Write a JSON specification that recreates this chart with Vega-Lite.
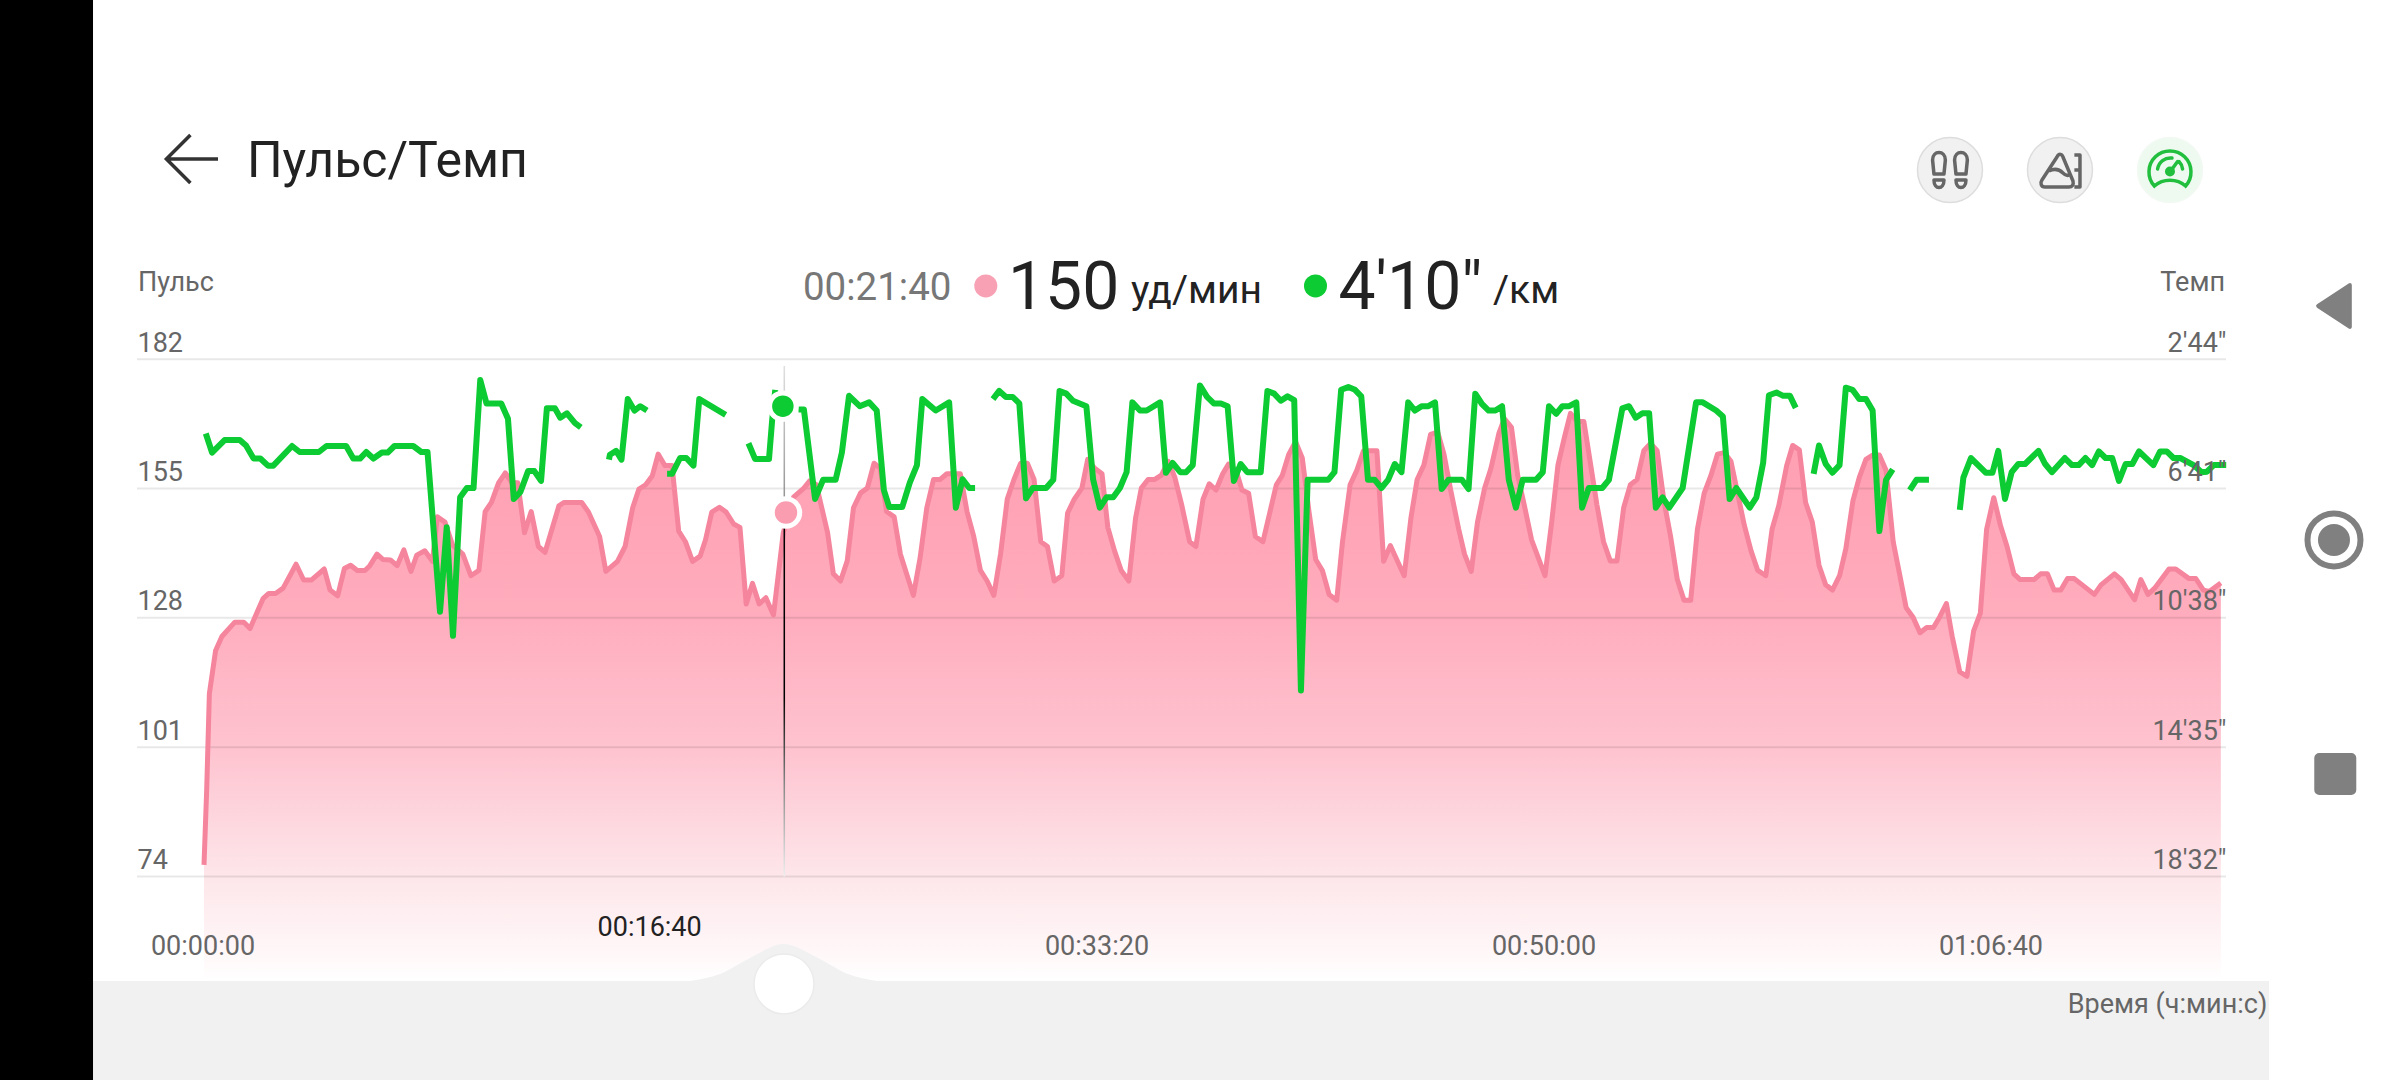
{
  "$schema": "https://vega.github.io/schema/vega-lite/v6.json",
  "width": 2400,
  "height": 1080,
  "autosize": {"type": "fit", "contains": "padding"},
  "padding": 0,
  "background": "#ffffff",
  "config": {"view": {"stroke": null}, "font": "Roboto"},
  "datasets": {
    "hr": [
      {"t":0,"bpm":76.4},{"t":6,"bpm":92.1},{"t":12,"bpm":112.2},{"t":26,"bpm":121.2},{"t":40,"bpm":124.1},{"t":69,"bpm":127.1},{"t":89,"bpm":127.1},{"t":103,"bpm":125.8},{"t":132,"bpm":132},{"t":145,"bpm":133.1},{"t":160,"bpm":133.1},{"t":177,"bpm":134.2},{"t":206,"bpm":139.2},{"t":223,"bpm":135.9},{"t":240,"bpm":135.9},{"t":269,"bpm":138.2},{"t":282,"bpm":133.8},{"t":299,"bpm":132.6},{"t":314,"bpm":138.3},{"t":328,"bpm":139},{"t":343,"bpm":137.9},{"t":360,"bpm":137.9},{"t":371,"bpm":138.9},{"t":387,"bpm":141.3},{"t":400,"bpm":140.2},{"t":417,"bpm":140.1},{"t":432,"bpm":138.9},{"t":447,"bpm":142.2},{"t":463,"bpm":137.7},{"t":476,"bpm":141.1},{"t":494,"bpm":142},{"t":511,"bpm":139.8},{"t":522,"bpm":149.1},{"t":539,"bpm":148},{"t":556,"bpm":143.2},{"t":579,"bpm":141.3},{"t":597,"bpm":136.8},{"t":615,"bpm":137.9},{"t":629,"bpm":150.2},{"t":643,"bpm":152.1},{"t":659,"bpm":156.2},{"t":674,"bpm":158.3},{"t":689,"bpm":156.2},{"t":702,"bpm":156.2},{"t":717,"bpm":145.8},{"t":732,"bpm":150.2},{"t":748,"bpm":142.9},{"t":763,"bpm":141.7},{"t":794,"bpm":151.4},{"t":805,"bpm":152.1},{"t":845,"bpm":152.1},{"t":860,"bpm":150.1},{"t":885,"bpm":145},{"t":899,"bpm":137.7},{"t":925,"bpm":139.8},{"t":942,"bpm":142.9},{"t":959,"bpm":151},{"t":973,"bpm":154.9},{"t":988,"bpm":155.8},{"t":1003,"bpm":157.7},{"t":1016,"bpm":162.2},{"t":1031,"bpm":159.8},{"t":1047,"bpm":159.8},{"t":1062,"bpm":146.1},{"t":1077,"bpm":143.9},{"t":1093,"bpm":139.8},{"t":1110,"bpm":140.9},{"t":1122,"bpm":144.3},{"t":1136,"bpm":150.1},{"t":1153,"bpm":151.1},{"t":1168,"bpm":150.1},{"t":1185,"bpm":147.6},{"t":1199,"bpm":146.9},{"t":1213,"bpm":130.9},{"t":1227,"bpm":135.2},{"t":1242,"bpm":130.9},{"t":1257,"bpm":132.2},{"t":1274,"bpm":128.6},{"t":1296,"bpm":145.8},{"t":1319,"bpm":153.2},{"t":1342,"bpm":155.1},{"t":1355,"bpm":156.6},{"t":1370,"bpm":155.8},{"t":1382,"bpm":151},{"t":1395,"bpm":145.8},{"t":1408,"bpm":137.2},{"t":1424,"bpm":135.7},{"t":1439,"bpm":139.9},{"t":1453,"bpm":151},{"t":1469,"bpm":154.1},{"t":1484,"bpm":155.1},{"t":1499,"bpm":160.3},{"t":1513,"bpm":159.2},{"t":1527,"bpm":150.2},{"t":1544,"bpm":149.1},{"t":1558,"bpm":141.3},
      {"t":1587,"bpm":132.7},{"t":1602,"bpm":140.5},{"t":1617,"bpm":151},{"t":1632,"bpm":156.9},{"t":1647,"bpm":156.9},{"t":1662,"bpm":158.1},{"t":1692,"bpm":158.1},{"t":1707,"bpm":150.2},{"t":1722,"bpm":145},{"t":1737,"bpm":137.9},{"t":1752,"bpm":135.7},{"t":1767,"bpm":132.7},{"t":1782,"bpm":141.3},{"t":1797,"bpm":152.8},{"t":1812,"bpm":156.9},{"t":1827,"bpm":160.3},{"t":1842,"bpm":160.3},{"t":1857,"bpm":156.9},{"t":1872,"bpm":143.9},{"t":1887,"bpm":142.9},{"t":1902,"bpm":135.7},{"t":1919,"bpm":136.8},{"t":1932,"bpm":149.9},{"t":1947,"bpm":152.8},{"t":1964,"bpm":155.1},{"t":1977,"bpm":161.1},{"t":1992,"bpm":159.3},{"t":2009,"bpm":158.1},{"t":2022,"bpm":146.9},{"t":2037,"bpm":142},{"t":2052,"bpm":137.9},{"t":2069,"bpm":135.7},{"t":2084,"bpm":148.8},{"t":2097,"bpm":155.1},{"t":2112,"bpm":156.9},{"t":2127,"bpm":156.9},{"t":2142,"bpm":157.8},{"t":2157,"bpm":160.7},{"t":2172,"bpm":157.3},{"t":2187,"bpm":151.7},{"t":2205,"bpm":143.9},{"t":2219,"bpm":142.9},{"t":2235,"bpm":152.8},{"t":2249,"bpm":156},{"t":2264,"bpm":154.7},{"t":2279,"bpm":158.1},{"t":2292,"bpm":160.1},{"t":2309,"bpm":158.8},{"t":2322,"bpm":154.7},{"t":2337,"bpm":154},{"t":2352,"bpm":145},{"t":2369,"bpm":143.9},{"t":2399,"bpm":155.8},{"t":2412,"bpm":157.7},{"t":2427,"bpm":162.2},{"t":2442,"bpm":164.8},{"t":2457,"bpm":161.4},{"t":2472,"bpm":150.2},{"t":2487,"bpm":140.2},{"t":2502,"bpm":137.9},{"t":2517,"bpm":132.9},{"t":2534,"bpm":131.7},{"t":2547,"bpm":143.9},{"t":2564,"bpm":155.8},{"t":2579,"bpm":158.8},{"t":2594,"bpm":162.9},{"t":2624,"bpm":162.9},{"t":2639,"bpm":139.8},{"t":2654,"bpm":143.1},{"t":2685,"bpm":136.8},{"t":2700,"bpm":148.8},{"t":2714,"bpm":156.9},{"t":2729,"bpm":159.9},{"t":2744,"bpm":166.3},{"t":2760,"bpm":166.8},{"t":2774,"bpm":162.2},{"t":2789,"bpm":154.7},{"t":2807,"bpm":146.5},{"t":2820,"bpm":141.3},{"t":2835,"bpm":137.7},{"t":2849,"bpm":148},{"t":2865,"bpm":155.1},{"t":2879,"bpm":159.2},{"t":2897,"bpm":166.6},{"t":2909,"bpm":169.6},{"t":2925,"bpm":167.8},{"t":2939,"bpm":157.7},{"t":2954,"bpm":151.4},{"t":2970,"bpm":144.3},{"t":3000,"bpm":136.8},{"t":3015,"bpm":148},{"t":3029,"bpm":159.9},{"t":3044,"bpm":165.9},
      {"t":3057,"bpm":170.7},{"t":3072,"bpm":169},{"t":3087,"bpm":169},{"t":3101,"bpm":160.7},{"t":3116,"bpm":151.7},{"t":3131,"bpm":143.9},{"t":3146,"bpm":139.9},{"t":3161,"bpm":139.9},{"t":3176,"bpm":151},{"t":3191,"bpm":155.8},{"t":3206,"bpm":156.9},{"t":3221,"bpm":162.9},{"t":3236,"bpm":164.4},{"t":3251,"bpm":162.9},{"t":3266,"bpm":152.5},{"t":3281,"bpm":145},{"t":3296,"bpm":136},{"t":3311,"bpm":131.7},{"t":3326,"bpm":131.7},{"t":3341,"bpm":146.5},{"t":3356,"bpm":154},{"t":3371,"bpm":157.7},{"t":3386,"bpm":162.2},{"t":3401,"bpm":162.5},{"t":3416,"bpm":160.7},{"t":3431,"bpm":154},{"t":3446,"bpm":147.3},{"t":3461,"bpm":142},{"t":3476,"bpm":137.9},{"t":3494,"bpm":136.8},{"t":3508,"bpm":146.5},{"t":3523,"bpm":151.4},{"t":3541,"bpm":159.9},{"t":3554,"bpm":164},{"t":3569,"bpm":163.1},{"t":3583,"bpm":152.1},{"t":3598,"bpm":148},{"t":3613,"bpm":139},{"t":3628,"bpm":134.9},{"t":3643,"bpm":133.8},{"t":3659,"bpm":136.8},{"t":3673,"bpm":142.4},{"t":3689,"bpm":152.5},{"t":3703,"bpm":157.3},{"t":3718,"bpm":161.1},{"t":3733,"bpm":162},{"t":3748,"bpm":162},{"t":3763,"bpm":158.8},{"t":3779,"bpm":143.9},{"t":3794,"bpm":136.8},{"t":3808,"bpm":130.1},{"t":3823,"bpm":128.2},{"t":3839,"bpm":124.9},{"t":3854,"bpm":126},{"t":3869,"bpm":126},{"t":3883,"bpm":128.2},{"t":3898,"bpm":131},{"t":3911,"bpm":124.1},{"t":3928,"bpm":116.7},{"t":3944,"bpm":115.8},{"t":3959,"bpm":125.3},{"t":3974,"bpm":129},{"t":3988,"bpm":146.5},{"t":4004,"bpm":153.1},{"t":4019,"bpm":147.3},{"t":4034,"bpm":142.8},{"t":4049,"bpm":137.2},{"t":4063,"bpm":136},{"t":4094,"bpm":136},{"t":4109,"bpm":137.2},{"t":4124,"bpm":137.2},{"t":4139,"bpm":133.8},{"t":4154,"bpm":133.8},{"t":4169,"bpm":136.2},{"t":4184,"bpm":136.2},{"t":4229,"bpm":132.9},{"t":4244,"bpm":134.9},{"t":4274,"bpm":137.2},{"t":4289,"bpm":136},{"t":4319,"bpm":131.8},{"t":4333,"bpm":136},{"t":4349,"bpm":132.9},{"t":4364,"bpm":134.2},{"t":4396,"bpm":138.2},{"t":4411,"bpm":138.2},{"t":4441,"bpm":136.2},{"t":4456,"bpm":136.2},{"t":4473,"bpm":133.8},{"t":4486,"bpm":133.5},{"t":4512,"bpm":135.3}
    ],
    "pace": [
      {"seg":1,"t":4,"pace":300},{"seg":1,"t":18,"pace":335},{"seg":1,"t":46,"pace":312},{"seg":1,"t":80,"pace":312},{"seg":1,"t":94,"pace":322},{"seg":1,"t":111,"pace":346},{"seg":1,"t":126,"pace":346},{"seg":1,"t":143,"pace":359},{"seg":1,"t":155,"pace":359},{"seg":1,"t":197,"pace":323},{"seg":1,"t":214,"pace":334},{"seg":1,"t":257,"pace":334},{"seg":1,"t":274,"pace":323},{"seg":1,"t":318,"pace":323},{"seg":1,"t":334,"pace":346},{"seg":1,"t":349,"pace":346},{"seg":1,"t":363,"pace":334},{"seg":1,"t":379,"pace":346},{"seg":1,"t":398,"pace":335},{"seg":1,"t":411,"pace":335},{"seg":1,"t":426,"pace":323},{"seg":1,"t":468,"pace":323},{"seg":1,"t":486,"pace":334},{"seg":1,"t":500,"pace":334},{"seg":1,"t":528,"pace":627},{"seg":1,"t":543,"pace":472},{"seg":1,"t":557,"pace":671},{"seg":1,"t":573,"pace":417},{"seg":1,"t":588,"pace":400},{"seg":1,"t":603,"pace":400},{"seg":1,"t":618,"pace":202},{"seg":1,"t":632,"pace":245},{"seg":1,"t":665,"pace":245},{"seg":1,"t":680,"pace":273},{"seg":1,"t":693,"pace":420},{"seg":1,"t":708,"pace":407},{"seg":1,"t":725,"pace":369},{"seg":1,"t":739,"pace":369},{"seg":1,"t":754,"pace":387},{"seg":1,"t":767,"pace":254},{"seg":1,"t":785,"pace":254},{"seg":1,"t":797,"pace":271},{"seg":1,"t":812,"pace":263},{"seg":1,"t":830,"pace":281},{"seg":1,"t":843,"pace":289},
      {"seg":2,"t":906,"pace":348},{"seg":2,"t":908,"pace":339},{"seg":2,"t":922,"pace":332},{"seg":2,"t":934,"pace":348},{"seg":2,"t":948,"pace":237},{"seg":2,"t":963,"pace":258},{"seg":2,"t":976,"pace":250},{"seg":2,"t":991,"pace":258},
      {"seg":3,"t":1036,"pace":374},{"seg":3,"t":1047,"pace":374},{"seg":3,"t":1065,"pace":345},{"seg":3,"t":1079,"pace":345},{"seg":3,"t":1095,"pace":359},{"seg":3,"t":1108,"pace":237},{"seg":3,"t":1167,"pace":266},
      {"seg":4,"t":1218,"pace":318},{"seg":4,"t":1233,"pace":347},{"seg":4,"t":1264,"pace":347},{"seg":4,"t":1271,"pace":276},{"seg":4,"t":1278,"pace":220},
      {"seg":5,"t":1330,"pace":256},{"seg":5,"t":1342,"pace":256},{"seg":5,"t":1367,"pace":420},{"seg":5,"t":1385,"pace":385},{"seg":5,"t":1413,"pace":385},{"seg":5,"t":1427,"pace":335},{"seg":5,"t":1443,"pace":231},{"seg":5,"t":1467,"pace":250},{"seg":5,"t":1488,"pace":243},{"seg":5,"t":1505,"pace":258},{"seg":5,"t":1521,"pace":404},{"seg":5,"t":1533,"pace":435},{"seg":5,"t":1562,"pace":435},{"seg":5,"t":1579,"pace":390},{"seg":5,"t":1595,"pace":358},{"seg":5,"t":1607,"pace":237},{"seg":5,"t":1637,"pace":258},{"seg":5,"t":1667,"pace":243},{"seg":5,"t":1682,"pace":436},{"seg":5,"t":1697,"pace":384},{"seg":5,"t":1712,"pace":400},{"seg":5,"t":1725,"pace":400},
      {"seg":6,"t":1765,"pace":237},{"seg":6,"t":1779,"pace":222},{"seg":6,"t":1794,"pace":233},{"seg":6,"t":1809,"pace":233},{"seg":6,"t":1824,"pace":245},{"seg":6,"t":1839,"pace":419},{"seg":6,"t":1854,"pace":400},{"seg":6,"t":1884,"pace":400},{"seg":6,"t":1900,"pace":385},{"seg":6,"t":1914,"pace":222},{"seg":6,"t":1929,"pace":227},{"seg":6,"t":1944,"pace":240},{"seg":6,"t":1974,"pace":250},{"seg":6,"t":1989,"pace":384},{"seg":6,"t":2004,"pace":436},{"seg":6,"t":2019,"pace":417},{"seg":6,"t":2034,"pace":417},{"seg":6,"t":2049,"pace":400},{"seg":6,"t":2064,"pace":371},{"seg":6,"t":2077,"pace":243},{"seg":6,"t":2094,"pace":258},{"seg":6,"t":2109,"pace":258},{"seg":6,"t":2139,"pace":243},{"seg":6,"t":2152,"pace":372},{"seg":6,"t":2167,"pace":354},{"seg":6,"t":2184,"pace":371},{"seg":6,"t":2197,"pace":371},{"seg":6,"t":2212,"pace":358},{"seg":6,"t":2228,"pace":212},{"seg":6,"t":2244,"pace":233},{"seg":6,"t":2259,"pace":245},{"seg":6,"t":2275,"pace":245},{"seg":6,"t":2290,"pace":250},{"seg":6,"t":2304,"pace":387},{"seg":6,"t":2319,"pace":356},{"seg":6,"t":2334,"pace":371},{"seg":6,"t":2364,"pace":371},{"seg":6,"t":2379,"pace":222},{"seg":6,"t":2394,"pace":227},{"seg":6,"t":2409,"pace":240},{"seg":6,"t":2424,"pace":232},{"seg":6,"t":2439,"pace":239},{"seg":6,"t":2454,"pace":771},{"seg":6,"t":2469,"pace":385},{"seg":6,"t":2515,"pace":385},{"seg":6,"t":2529,"pace":371},{"seg":6,"t":2544,"pace":220},{"seg":6,"t":2560,"pace":215},{"seg":6,"t":2575,"pace":220},{"seg":6,"t":2589,"pace":232},{"seg":6,"t":2604,"pace":385},{"seg":6,"t":2619,"pace":385},{"seg":6,"t":2634,"pace":400},{"seg":6,"t":2649,"pace":385},{"seg":6,"t":2664,"pace":356},{"seg":6,"t":2679,"pace":371},{"seg":6,"t":2694,"pace":243},{"seg":6,"t":2709,"pace":258},{"seg":6,"t":2724,"pace":250},{"seg":6,"t":2739,"pace":250},{"seg":6,"t":2754,"pace":243},{"seg":6,"t":2769,"pace":402},{"seg":6,"t":2784,"pace":385},{"seg":6,"t":2814,"pace":385},{"seg":6,"t":2829,"pace":402},{"seg":6,"t":2844,"pace":227},{"seg":6,"t":2859,"pace":246},{"seg":6,"t":2874,"pace":258},{"seg":6,"t":2889,"pace":258},{"seg":6,"t":2904,"pace":250},{"seg":6,"t":2919,"pace":385},{"seg":6,"t":2935,"pace":436},{"seg":6,"t":2950,"pace":385},{"seg":6,"t":2980,"pace":385},{"seg":6,"t":2995,"pace":371},{"seg":6,"t":3009,"pace":250},{"seg":6,"t":3025,"pace":264},{"seg":6,"t":3039,"pace":250},{"seg":6,"t":3054,"pace":250},{"seg":6,"t":3070,"pace":243},{"seg":6,"t":3083,"pace":436},{"seg":6,"t":3098,"pace":400},{"seg":6,"t":3128,"pace":400},{"seg":6,"t":3143,"pace":385},{"seg":6,"t":3173,"pace":254},{"seg":6,"t":3188,"pace":250},{"seg":6,"t":3203,"pace":271},{"seg":6,"t":3218,"pace":263},{"seg":6,"t":3233,"pace":263},{"seg":6,"t":3248,"pace":436},{"seg":6,"t":3263,"pace":417},{"seg":6,"t":3278,"pace":436},{"seg":6,"t":3308,"pace":400},{"seg":6,"t":3338,"pace":243},{"seg":6,"t":3353,"pace":243},{"seg":6,"t":3383,"pace":258},{"seg":6,"t":3398,"pace":269},{"seg":6,"t":3413,"pace":420},{"seg":6,"t":3428,"pace":400},{"seg":6,"t":3458,"pace":436},{"seg":6,"t":3473,"pace":417},{"seg":6,"t":3488,"pace":354},{"seg":6,"t":3501,"pace":230},{"seg":6,"t":3518,"pace":225},{"seg":6,"t":3533,"pace":231},{"seg":6,"t":3548,"pace":231},{"seg":6,"t":3561,"pace":253},
      {"seg":7,"t":3601,"pace":374},{"seg":7,"t":3613,"pace":322},{"seg":7,"t":3628,"pace":356},{"seg":7,"t":3643,"pace":372},{"seg":7,"t":3659,"pace":358},{"seg":7,"t":3673,"pace":216},{"seg":7,"t":3688,"pace":220},{"seg":7,"t":3703,"pace":237},{"seg":7,"t":3718,"pace":237},{"seg":7,"t":3733,"pace":258},{"seg":7,"t":3748,"pace":479},{"seg":7,"t":3763,"pace":385},{"seg":7,"t":3778,"pace":366},
      {"seg":8,"t":3816,"pace":404},{"seg":8,"t":3831,"pace":385},{"seg":8,"t":3859,"pace":385},
      {"seg":9,"t":3928,"pace":440},{"seg":9,"t":3936,"pace":381},{"seg":9,"t":3953,"pace":345},{"seg":9,"t":3986,"pace":372},{"seg":9,"t":4001,"pace":372},{"seg":9,"t":4014,"pace":332},{"seg":9,"t":4029,"pace":420},{"seg":9,"t":4044,"pace":371},{"seg":9,"t":4059,"pace":356},{"seg":9,"t":4074,"pace":356},{"seg":9,"t":4104,"pace":332},{"seg":9,"t":4119,"pace":356},{"seg":9,"t":4134,"pace":371},{"seg":9,"t":4163,"pace":345},{"seg":9,"t":4179,"pace":358},{"seg":9,"t":4194,"pace":358},{"seg":9,"t":4209,"pace":345},{"seg":9,"t":4224,"pace":358},{"seg":9,"t":4239,"pace":333},{"seg":9,"t":4254,"pace":345},{"seg":9,"t":4269,"pace":345},{"seg":9,"t":4284,"pace":387},{"seg":9,"t":4299,"pace":356},{"seg":9,"t":4314,"pace":356},{"seg":9,"t":4329,"pace":333},{"seg":9,"t":4361,"pace":358},{"seg":9,"t":4376,"pace":333},{"seg":9,"t":4391,"pace":333},{"seg":9,"t":4406,"pace":345},{"seg":9,"t":4421,"pace":345},{"seg":9,"t":4451,"pace":358},{"seg":9,"t":4469,"pace":371},{"seg":9,"t":4481,"pace":370},{"seg":9,"t":4496,"pace":358},{"seg":9,"t":4524,"pace":358}
    ]
  },
  "layer": [
    {
      "layer": [
        {
          "data": {"name": "hr"},
          "mark": {"type": "area", "color": {"gradient": "linear", "x1": 0, "y1": 0, "x2": 0, "y2": 1, "stops": [
            {"offset": 0, "color": "#ff9cb0"},
            {"offset": 0.36, "color": "#ffadbe"},
            {"offset": 0.59, "color": "#fec3cf"},
            {"offset": 0.815, "color": "#fde6ea"},
            {"offset": 0.95, "color": "#fff7f8"},
            {"offset": 1, "color": "#ffffff"}
          ]}},
          "encoding": {
            "x": {"field": "t", "type": "quantitative", "scale": {"domain": [-456.4, 4912.8], "nice": false, "zero": false},
              "axis": {"title": null, "values": [0, 2000, 3000, 4000], "labelExpr": "utcFormat(datum.value * 1000, '%H:%M:%S')", "orient": "bottom", "offset": -134, "domain": false, "ticks": false, "grid": false, "labelPadding": 0, "labelBaseline": "middle", "labelOffset": -1.5, "labelFontSize": 27, "labelColor": "#666666", "labelOverlap": false, "labelFlush": false, "labelBound": false, "zindex": 1}},
            "y": {"field": "bpm", "type": "quantitative", "scale": {"domain": [31.49, 257.03], "nice": false, "zero": false},
              "axis": {"title": null, "values": [74, 101, 128, 155, 182], "orient": "left", "offset": -137, "domain": false, "ticks": false, "grid": false, "labelPadding": 0, "labelAlign": "left", "labelBaseline": "middle", "labelOffset": -16, "labelFontSize": 27, "labelColor": "#666666", "labelOverlap": false, "labelBound": false, "zindex": 1}},
            "y2": {"datum": 52.19}
          }
        },
        {
          "data": {"values": [{"bpm": 74}, {"bpm": 101}, {"bpm": 128}, {"bpm": 155}, {"bpm": 182}]},
          "mark": {"type": "rule", "color": "#000000", "opacity": 0.09, "strokeWidth": 2},
          "encoding": {"y": {"field": "bpm", "type": "quantitative"}, "x": {"datum": -149.9}, "x2": {"datum": 4523.5}}
        },
        {
          "data": {"name": "hr"},
          "mark": {"type": "line", "color": "#f5849d", "strokeWidth": 5, "strokeJoin": "round"},
          "encoding": {"x": {"field": "t", "type": "quantitative"}, "y": {"field": "bpm", "type": "quantitative"}}
        },
        {
          "data": {"values": [{}]},
          "mark": {"type": "rect", "color": "#f1f1f1"},
          "encoding": {"x": {"datum": -248.3}, "x2": {"datum": 4619.7}, "y": {"datum": 52.19}, "y2": {"datum": 31.49}}
        },
        {
          "data": {"values": [{"t": 1087.2, "edge": 52.19}, {"t": 1154.4, "edge": 53.65}, {"t": 1221.5, "edge": 56.99}, {"t": 1297.5, "edge": 59.91}, {"t": 1373.6, "edge": 56.99}, {"t": 1440.7, "edge": 53.65}, {"t": 1505.6, "edge": 52.19}]},
          "mark": {"type": "area", "color": "#f1f1f1", "interpolate": "monotone"},
          "encoding": {"x": {"field": "t", "type": "quantitative"}, "y": {"field": "edge", "type": "quantitative"}, "y2": {"datum": 52.0}}
        },
        {
          "data": {"values": [{}]},
          "mark": {"type": "point", "filled": true, "opacity": 1, "color": "#ffffff", "stroke": "#ebebeb", "strokeWidth": 1.5, "size": 3600},
          "encoding": {"x": {"datum": 1297.5}, "y": {"datum": 51.56}}
        },
        {
          "data": {"values": [{}]},
          "mark": {"type": "rect", "color": "#000000"},
          "encoding": {"x": {"datum": -456.4}, "x2": {"datum": -248.3}, "y": {"datum": 31.49}, "y2": {"datum": 257.03}}
        },
        {
          "data": {"values": [{}]},
          "mark": {"type": "rect", "color": {"gradient": "linear", "x1": 0, "y1": 0, "x2": 0, "y2": 1, "stops": [
            {"offset": 0, "color": "#e0e0e0"},
            {"offset": 0.3, "color": "#888888"},
            {"offset": 0.31, "color": "#000000"},
            {"offset": 0.65, "color": "#000000"},
            {"offset": 0.82, "color": "#888888"},
            {"offset": 1, "color": "#eeeeee"}
          ]}},
          "encoding": {"x": {"datum": 1296.5}, "x2": {"datum": 1299.9}, "y": {"datum": 180.6}, "y2": {"datum": 74}}
        },
        {
          "data": {"values": [{"t": 1302, "bpm": 150}]},
          "mark": {"type": "point", "filled": true, "opacity": 1, "color": "#fa9db0", "stroke": "#ffffff", "strokeWidth": 5, "size": 756},
          "encoding": {"x": {"field": "t", "type": "quantitative"}, "y": {"field": "bpm", "type": "quantitative"}}
        },
        {
          "data": {"values": [{}]},
          "mark": {"type": "text", "text": "Пульс/Темп", "align": "left", "baseline": "middle", "fontSize": 50, "color": "#222222"},
          "encoding": {"x": {"datum": 96}, "y": {"datum": 223.1}}
        },
        {
          "data": {"values": [{}]},
          "mark": {"type": "point", "filled": false, "opacity": 1, "stroke": "#333333", "strokeWidth": 3.5, "size": 3600, "shape": "M-0.82,0 L0.9,0 M-0.02,-0.8 L-0.82,0 L-0.02,0.8"},
          "encoding": {"x": {"datum": -29.1}, "y": {"datum": 223.83}}
        },
        {
          "data": {"values": [{}]},
          "mark": {"type": "point", "filled": true, "opacity": 1, "color": "#f1f1f1", "stroke": "#dddddd", "strokeWidth": 1.5, "size": 4225},
          "encoding": {"x": {"datum": 3906}, "y": {"datum": 221.53}}
        },
        {
          "data": {"values": [{}]},
          "mark": {"type": "point", "filled": false, "opacity": 1, "stroke": "#666666", "strokeWidth": 3.5, "size": 1600, "strokeJoin": "round", "shape": "M-0.87,-0.5 C-0.87,-1 -0.23,-1 -0.23,-0.5 L-0.3,0.2 L-0.8,0.2 Z M-0.8,0.5 L-0.3,0.5 C-0.3,1 -0.8,1 -0.8,0.5 Z M0.23,-0.5 C0.23,-1 0.87,-1 0.87,-0.5 L0.8,0.2 L0.3,0.2 Z M0.3,0.5 L0.8,0.5 C0.8,1 0.3,1 0.3,0.5 Z"},
          "encoding": {"x": {"datum": 3906}, "y": {"datum": 221.53}}
        },
        {
          "data": {"values": [{}]},
          "mark": {"type": "point", "filled": true, "opacity": 1, "color": "#f1f1f1", "stroke": "#dddddd", "strokeWidth": 1.5, "size": 4225},
          "encoding": {"x": {"datum": 4152.1}, "y": {"datum": 221.53}}
        },
        {
          "data": {"values": [{}]},
          "mark": {"type": "point", "filled": false, "opacity": 1, "stroke": "#666666", "strokeWidth": 3.5, "size": 1600, "strokeJoin": "round", "shape": "M-0.15,-0.65 C-0.05,-0.85 0.1,-0.8 0.15,-0.65 L0.65,0.55 C0.7,0.75 0.6,0.85 0.45,0.85 L-0.75,0.85 C-0.95,0.85 -1,0.65 -0.9,0.5 Z M-0.55,0.05 C-0.25,-0.1 0,0 0.15,0.15 C0.25,0.25 0.35,0.3 0.45,0.25 M0.72,-0.75 L1,-0.75 L1,0.85 L0.72,0.85 M0.72,0 L1,0"},
          "encoding": {"x": {"datum": 4152.1}, "y": {"datum": 221.53}}
        },
        {
          "data": {"values": [{}]},
          "mark": {"type": "point", "filled": true, "opacity": 1, "color": "#eefaf0", "stroke": "#f2f9f3", "strokeWidth": 1.5, "size": 4225},
          "encoding": {"x": {"datum": 4398.2}, "y": {"datum": 221.53}}
        },
        {
          "data": {"values": [{}]},
          "mark": {"type": "point", "filled": false, "opacity": 1, "stroke": "#22bf3e", "strokeWidth": 3.5, "size": 1600, "strokeCap": "round", "shape": "M-0.78,0.8 A1.05,1.05 0 1 1 0.78,0.8 C0.35,0.42 -0.35,0.42 -0.78,0.8 Z M-0.62,-0.05 A0.65,0.65 0 0 1 0.1,-0.6 M0.45,-0.42 A0.65,0.65 0 0 1 0.63,-0.05 M0,0.1 L0.38,-0.42"},
          "encoding": {"x": {"datum": 4398.2}, "y": {"datum": 221.53}}
        },
        {
          "data": {"values": [{}]},
          "mark": {"type": "point", "filled": true, "opacity": 1, "color": "#22bf3e", "size": 100},
          "encoding": {"x": {"datum": 4398.2}, "y": {"datum": 221.2}}
        },
        {
          "data": {"values": [{}]},
          "mark": {"type": "text", "text": "Пульс", "align": "left", "baseline": "middle", "fontSize": 27, "color": "#666666"},
          "encoding": {"x": {"datum": -147.7}, "y": {"datum": 197.94}}
        },
        {
          "data": {"values": [{}]},
          "mark": {"type": "text", "text": "Темп", "align": "right", "baseline": "middle", "fontSize": 27, "color": "#666666"},
          "encoding": {"x": {"datum": 4521.3}, "y": {"datum": 197.94}}
        },
        {
          "data": {"values": [{}]},
          "mark": {"type": "text", "text": "00:21:40", "align": "left", "baseline": "middle", "fontSize": 38.5, "color": "#777777"},
          "encoding": {"x": {"datum": 1340}, "y": {"datum": 196.89}}
        },
        {
          "data": {"values": [{}]},
          "mark": {"type": "point", "filled": true, "opacity": 1, "color": "#f8a0b4", "size": 529},
          "encoding": {"x": {"datum": 1749}, "y": {"datum": 197.31}}
        },
        {
          "data": {"values": [{}]},
          "mark": {"type": "text", "text": "150", "align": "left", "baseline": "alphabetic", "fontSize": 66, "color": "#222222"},
          "encoding": {"x": {"datum": 1798.7}, "y": {"datum": 192.51}}
        },
        {
          "data": {"values": [{}]},
          "mark": {"type": "text", "text": "уд/мин", "align": "left", "baseline": "alphabetic", "fontSize": 39, "color": "#222222"},
          "encoding": {"x": {"datum": 2073.8}, "y": {"datum": 193.76}}
        },
        {
          "data": {"values": [{}]},
          "mark": {"type": "point", "filled": true, "opacity": 1, "color": "#0ccb33", "size": 529},
          "encoding": {"x": {"datum": 2486.6}, "y": {"datum": 197.31}}
        },
        {
          "data": {"values": [{}]},
          "mark": {"type": "text", "text": "4'10\"", "align": "left", "baseline": "alphabetic", "fontSize": 66, "color": "#222222"},
          "encoding": {"x": {"datum": 2538}, "y": {"datum": 192.51}}
        },
        {
          "data": {"values": [{}]},
          "mark": {"type": "text", "text": "/км", "align": "left", "baseline": "alphabetic", "fontSize": 39, "color": "#222222"},
          "encoding": {"x": {"datum": 2883.7}, "y": {"datum": 193.76}}
        },
        {
          "data": {"values": [{}]},
          "mark": {"type": "text", "text": "00:16:40", "align": "center", "baseline": "middle", "fontSize": 27, "color": "#222222"},
          "encoding": {"x": {"datum": 997}, "y": {"datum": 63.16}}
        },
        {
          "data": {"values": [{}]},
          "mark": {"type": "text", "text": "Время (ч:мин:с)", "align": "right", "baseline": "middle", "fontSize": 27, "color": "#666666"},
          "encoding": {"x": {"datum": 4616}, "y": {"datum": 47.17}}
        },
        {
          "data": {"values": [{}]},
          "mark": {"type": "point", "filled": true, "opacity": 1, "color": "#808080", "stroke": "#808080", "strokeWidth": 4, "strokeJoin": "round", "size": 1936, "shape": "M0.72,-0.95 L-0.72,0 L0.72,0.95 Z"},
          "encoding": {"x": {"datum": 4765.1}, "y": {"datum": 193.13}}
        },
        {
          "data": {"values": [{}]},
          "mark": {"type": "point", "filled": false, "opacity": 1, "stroke": "#808080", "strokeWidth": 6, "size": 2809},
          "encoding": {"x": {"datum": 4765.1}, "y": {"datum": 144.27}}
        },
        {
          "data": {"values": [{}]},
          "mark": {"type": "point", "filled": true, "opacity": 1, "color": "#808080", "size": 1024},
          "encoding": {"x": {"datum": 4765.1}, "y": {"datum": 144.27}}
        },
        {
          "data": {"values": [{}]},
          "mark": {"type": "point", "shape": "square", "filled": true, "opacity": 1, "color": "#808080", "stroke": "#808080", "strokeWidth": 10, "strokeJoin": "round", "size": 1024},
          "encoding": {"x": {"datum": 4768}, "y": {"datum": 95.41}}
        }
      ]
    },
    {
      "layer": [
        {
          "data": {"name": "pace"},
          "mark": {"type": "line", "color": "#0ccb33", "strokeWidth": 6, "strokeJoin": "round"},
          "encoding": {
            "x": {"field": "t", "type": "quantitative"},
            "y": {"field": "pace", "type": "quantitative", "scale": {"domain": [1485.2, -494.6], "nice": false, "zero": false},
              "axis": {"title": null, "values": [164, 401, 638, 875, 1112], "labelExpr": "floor(datum.value / 60) + \"'\" + (datum.value % 60) + '\"'", "orient": "right", "offset": -174, "domain": false, "ticks": false, "grid": false, "labelPadding": 0, "labelAlign": "right", "labelBaseline": "middle", "labelOffset": -16, "labelFontSize": 27, "labelColor": "#666666", "labelOverlap": false, "labelBound": false, "zindex": 1}},
            "detail": {"field": "seg", "type": "nominal"}
          }
        },
        {
          "data": {"values": [{"t": 1295, "pace": 250}]},
          "mark": {"type": "point", "filled": true, "opacity": 1, "color": "#0ccb33", "stroke": "#ffffff", "strokeWidth": 5, "size": 702},
          "encoding": {"x": {"field": "t", "type": "quantitative"}, "y": {"field": "pace", "type": "quantitative"}}
        }
      ]
    }
  ],
  "resolve": {"scale": {"y": "independent"}}
}
